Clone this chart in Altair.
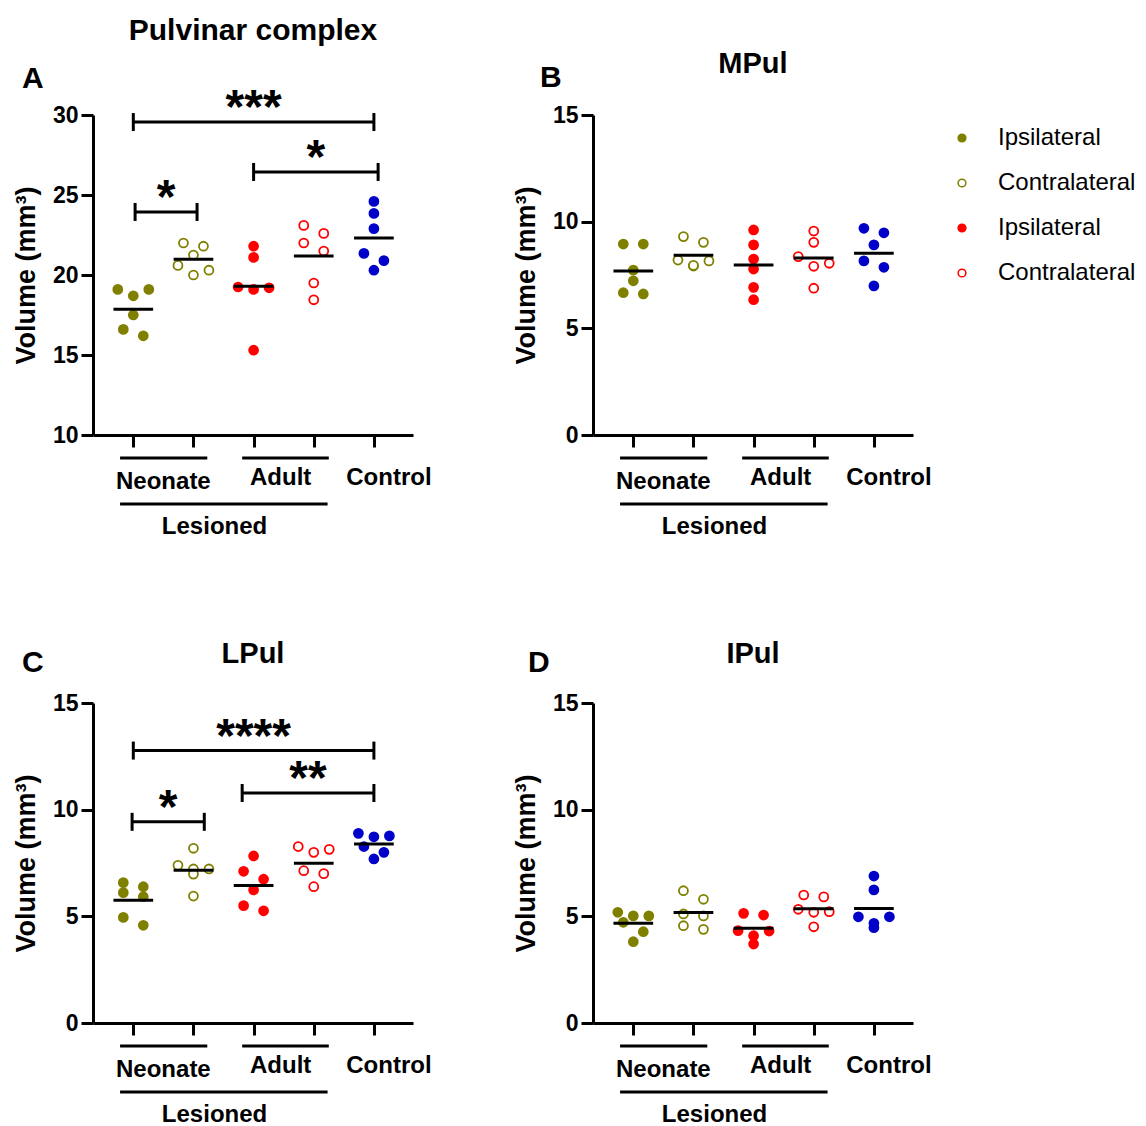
import altair as alt
import pandas as pd

# ---------------- data ----------------
GROUPS = ["Neonate Ipsilateral", "Neonate Contralateral",
          "Adult Ipsilateral", "Adult Contralateral", "Control"]
PANEL_TITLES = ["Pulvinar complex", "MPul", "LPul", "IPul"]
PANEL_LETTERS = ["A", "B", "C", "D"]
Y_DOMAINS = [(10, 30), (0, 15), (0, 15), (0, 15)]
Y_TICKS = [[10, 15, 20, 25, 30], [0, 5, 10, 15], [0, 5, 10, 15], [0, 5, 10, 15]]

# Pulvinar complex (A)
PUL_NEO_IPSI = [19.1, 18.7, 19.1, 17.5, 16.6, 16.2]
PUL_NEO_CONTRA = [21.8, 22.0, 21.25, 20.6, 20.0, 20.3]
PUL_ADULT_IPSI = [21.8, 21.1, 19.25, 19.1, 19.2, 15.3]
PUL_ADULT_CONTRA = [23.1, 22.6, 22.0, 21.5, 19.5, 18.45]
PUL_CONTROL = [24.6, 23.85, 22.9, 21.35, 20.9, 20.3]

# MPul (B)
MPUL_NEO_IPSI = [8.95, 8.95, 7.73, 7.23, 6.61, 6.67]
MPUL_NEO_CONTRA = [9.03, 9.30, 8.20, 7.92, 7.95, 8.16]
MPUL_ADULT_IPSI = [9.61, 8.91, 8.25, 7.78, 6.92, 6.34]
MPUL_ADULT_CONTRA = [9.56, 9.03, 8.36, 8.05, 7.91, 6.88]
MPUL_CONTROL = [9.48, 9.69, 8.91, 8.16, 7.86, 6.99]

# LPul (C)
LPUL_NEO_IPSI = [6.39, 6.58, 5.92, 6.11, 4.95, 4.58]
LPUL_NEO_CONTRA = [8.19, 7.39, 7.22, 7.22, 6.98, 5.95]
LPUL_ADULT_IPSI = [7.83, 7.11, 6.74, 6.24, 5.50, 5.26]
LPUL_ADULT_CONTRA = [8.27, 8.00, 8.14, 7.14, 7.00, 6.39]
LPUL_CONTROL = [8.77, 8.89, 8.73, 8.27, 7.69, 8.00]

# IPul (D)
IPUL_NEO_IPSI = [5.02, 5.19, 5.02, 4.72, 4.28, 3.81]
IPUL_NEO_CONTRA = [6.20, 5.80, 5.02, 5.11, 4.56, 4.39]
IPUL_ADULT_IPSI = [5.06, 5.14, 4.33, 4.31, 4.09, 3.70]
IPUL_ADULT_CONTRA = [5.91, 6.00, 5.33, 5.19, 5.22, 4.51]
IPUL_CONTROL = [6.89, 6.24, 4.98, 4.98, 4.47, 4.67]

PANEL_DATA = [
    [PUL_NEO_IPSI, PUL_NEO_CONTRA, PUL_ADULT_IPSI, PUL_ADULT_CONTRA, PUL_CONTROL],
    [MPUL_NEO_IPSI, MPUL_NEO_CONTRA, MPUL_ADULT_IPSI, MPUL_ADULT_CONTRA, MPUL_CONTROL],
    [LPUL_NEO_IPSI, LPUL_NEO_CONTRA, LPUL_ADULT_IPSI, LPUL_ADULT_CONTRA, LPUL_CONTROL],
    [IPUL_NEO_IPSI, IPUL_NEO_CONTRA, IPUL_ADULT_IPSI, IPUL_ADULT_CONTRA, IPUL_CONTROL],
]

# significance brackets: (from group, to group, height, stars)
BRACKETS = [
    [(0.0, 4.0, 29.56, "***"), (2.0, 4.07, 26.44, "*"), (0.03, 1.06, 23.94, "*")],
    [],
    [(0.0, 4.0, 12.77, "****"), (1.81, 4.0, 10.78, "**"), (-0.02, 1.18, 9.43, "*")],
    [],
]

# ---------------- style ----------------
FONT = "Liberation Sans"
FILL_COLORS = ["#808000", "#ffffff", "#ff0000", "#ffffff", "#0000c8"]
STROKE_COLORS = ["#808000", "#808000", "#ff0000", "#ff0000", "#0000c8"]
W = 320
H = 320
X_DOMAIN = [-0.67, 4.65]
PX_PER_X = W / (X_DOMAIN[1] - X_DOMAIN[0])


def swarm(values, px_per_unit, d=10.0):
    """GraphPad-like horizontal spreading of points that would overlap."""
    order = sorted(range(len(values)), key=lambda i: -values[i])
    rows = []
    for i in order:
        if rows and len(rows[-1]) < 3 and (values[rows[-1][0]] - values[i]) * px_per_unit < d:
            rows[-1].append(i)
        else:
            rows.append([i])
    offs = [0.0] * len(values)
    for row in rows:
        if len(row) == 2:
            pos = [-10.0, 10.0]
        elif len(row) == 3:
            pos = [-15.5, 15.5, 0.0]
        else:
            pos = [0.0]
        for i, p in zip(row, pos):
            offs[i] = p
    return offs


legend = alt.Legend(
    values=GROUPS[:4],
    labelExpr="split(datum.label, ' ')[1]",
    title=None,
    orient="none",
    legendX=857,
    legendY=11,
    labelFont=FONT,
    labelFontSize=24,
    labelColor="black",
    symbolType="circle",
    symbolSize=60,
    symbolStrokeWidth=1.5,
    labelOffset=24,
    rowPadding=21,
    padding=0,
)


def build_panel(k):
    ymin, ymax = Y_DOMAINS[k]
    px_per_y = H / (ymax - ymin)
    rows = []
    for gi, g in enumerate(GROUPS):
        vals = PANEL_DATA[k][gi]
        offs = swarm(vals, px_per_y)
        for v, o in zip(vals, offs):
            rows.append({"series": g, "idx": gi, "value": v, "xpos": gi + o / PX_PER_X})
    df = pd.DataFrame(rows)

    xs = alt.Scale(domain=X_DOMAIN, nice=False, zero=False)
    ys = alt.Scale(domain=[ymin, ymax], nice=False, zero=False)

    xaxis = alt.Axis(values=[0, 1, 2, 3, 4], labels=False, title=None, grid=False,
                     tickSize=12, tickWidth=3, domainWidth=3,
                     tickColor="black", domainColor="black")
    yaxis = alt.Axis(values=Y_TICKS[k], title="Volume (mm³)", grid=False,
                     tickSize=12, tickWidth=3, domainWidth=3,
                     tickColor="black", domainColor="black",
                     labelFont=FONT, labelFontSize=23, labelFontWeight="bold",
                     labelColor="black", labelPadding=3,
                     titleFont=FONT, titleFontSize=27, titleFontWeight="bold",
                     titleColor="black", titlePadding=12)

    base = alt.Chart(df)
    points = base.mark_point(shape="circle", size=80, strokeWidth=1.8, opacity=1).encode(
        x=alt.X("xpos:Q", scale=xs, axis=xaxis),
        y=alt.Y("value:Q", scale=ys, axis=yaxis),
        fill=alt.Fill("series:N", scale=alt.Scale(domain=GROUPS, range=FILL_COLORS), legend=legend),
        stroke=alt.Stroke("series:N", scale=alt.Scale(domain=GROUPS, range=STROKE_COLORS), legend=legend),
    )

    means = base.transform_aggregate(
        m="mean(value)", groupby=["idx"]
    ).transform_calculate(
        x1="datum.idx - 0.33", x2="datum.idx + 0.33"
    ).mark_rule(color="black", strokeWidth=3).encode(
        x=alt.X("x1:Q", scale=xs),
        x2="x2:Q",
        y=alt.Y("m:Q", scale=ys),
    )

    layers = [points, means]

    # significance brackets
    br = BRACKETS[k]
    if br:
        cap = 9.0 / px_per_y
        bdf = pd.DataFrame([{"xa": a, "xb": b, "yv": y, "txt": t, "xm": (a + b) / 2} for a, b, y, t in br])
        cdf = pd.DataFrame(
            [{"xc": a, "y1": y - cap, "y2": y + cap} for a, b, y, t in br]
            + [{"xc": b, "y1": y - cap, "y2": y + cap} for a, b, y, t in br]
        )
        layers.append(alt.Chart(bdf).mark_rule(color="black", strokeWidth=3).encode(
            x=alt.X("xa:Q", scale=xs), x2="xb:Q",
            y=alt.Y("yv:Q", scale=ys)))
        layers.append(alt.Chart(cdf).mark_rule(color="black", strokeWidth=3).encode(
            x=alt.X("xc:Q", scale=xs),
            y=alt.Y("y1:Q", scale=ys), y2="y2:Q"))
        layers.append(alt.Chart(bdf).mark_text(font=FONT, fontSize=48, fontWeight="bold",
                                               color="black", baseline="alphabetic", dy=1).encode(
            x=alt.X("xm:Q", scale=xs),
            y=alt.Y("yv:Q", scale=ys), text="txt:N"))

    # grouped category labels below the x axis
    neo_mid = (0 + 1) / 2
    adult_mid = (2 + 3) / 2
    les_mid = (0 + 3) / 2
    gl = pd.DataFrame([
        {"xa": 0 - 0.22, "xb": 1 + 0.23},
        {"xa": 2 - 0.19, "xb": 3 + 0.25},
    ])
    layers.append(alt.Chart(gl).mark_rule(color="black", strokeWidth=3).encode(
        x=alt.X("xa:Q", scale=xs), x2="xb:Q", y=alt.value(H + 23)))
    ll = pd.DataFrame([{"xa": 0 - 0.22, "xb": 3 + 0.23}])
    layers.append(alt.Chart(ll).mark_rule(color="black", strokeWidth=3).encode(
        x=alt.X("xa:Q", scale=xs), x2="xb:Q", y=alt.value(H + 69)))

    def label(txt, xv, ypx, dx=0):
        return alt.Chart(pd.DataFrame({"t": [txt], "xv": [xv]})).mark_text(
            font=FONT, fontSize=24, fontWeight="bold", color="black",
            align="center", baseline="alphabetic", dx=dx).encode(
            x=alt.X("xv:Q", scale=xs), y=alt.value(ypx), text="t:N")

    layers.append(label("Neonate", neo_mid, H + 54))
    layers.append(label("Adult", adult_mid, H + 50, dx=-3))
    layers.append(label("Control", 4, H + 50, dx=15))
    layers.append(label("Lesioned", les_mid, H + 99, dx=-9))

    # panel title and letter
    title_y = [-75, -42, -40, -40][k]
    letter_x = [-71, -53, -71, -65][k]
    letter_y = [-27, -28, -31, -31][k]
    layers.append(alt.Chart(pd.DataFrame({"t": [PANEL_TITLES[k]]})).mark_text(
        font=FONT, fontSize=30 if k == 0 else 29, fontWeight="bold", color="black",
        align="center", baseline="alphabetic").encode(
        x=alt.value(W / 2), y=alt.value(title_y), text="t:N"))
    layers.append(alt.Chart(pd.DataFrame({"t": [PANEL_LETTERS[k]]})).mark_text(
        font=FONT, fontSize=30, fontWeight="bold", color="black",
        align="left", baseline="alphabetic").encode(
        x=alt.value(letter_x), y=alt.value(letter_y), text="t:N"))

    return alt.layer(*layers).properties(width=W, height=H)


panels = [build_panel(k) for k in range(4)]

chart = alt.ConcatChart(
    concat=panels,
    columns=2,
    spacing={"row": 268, "column": 180},
    bounds="flush",
).properties(
    autosize=alt.AutoSizeParams(type="none"),
    padding={"left": 93, "top": 115, "right": 1053, "bottom": 1011},
).configure(font=FONT).configure_view(strokeWidth=0, stroke=None)

chart.save("out.html", embed_options={"renderer": "svg", "actions": False})
